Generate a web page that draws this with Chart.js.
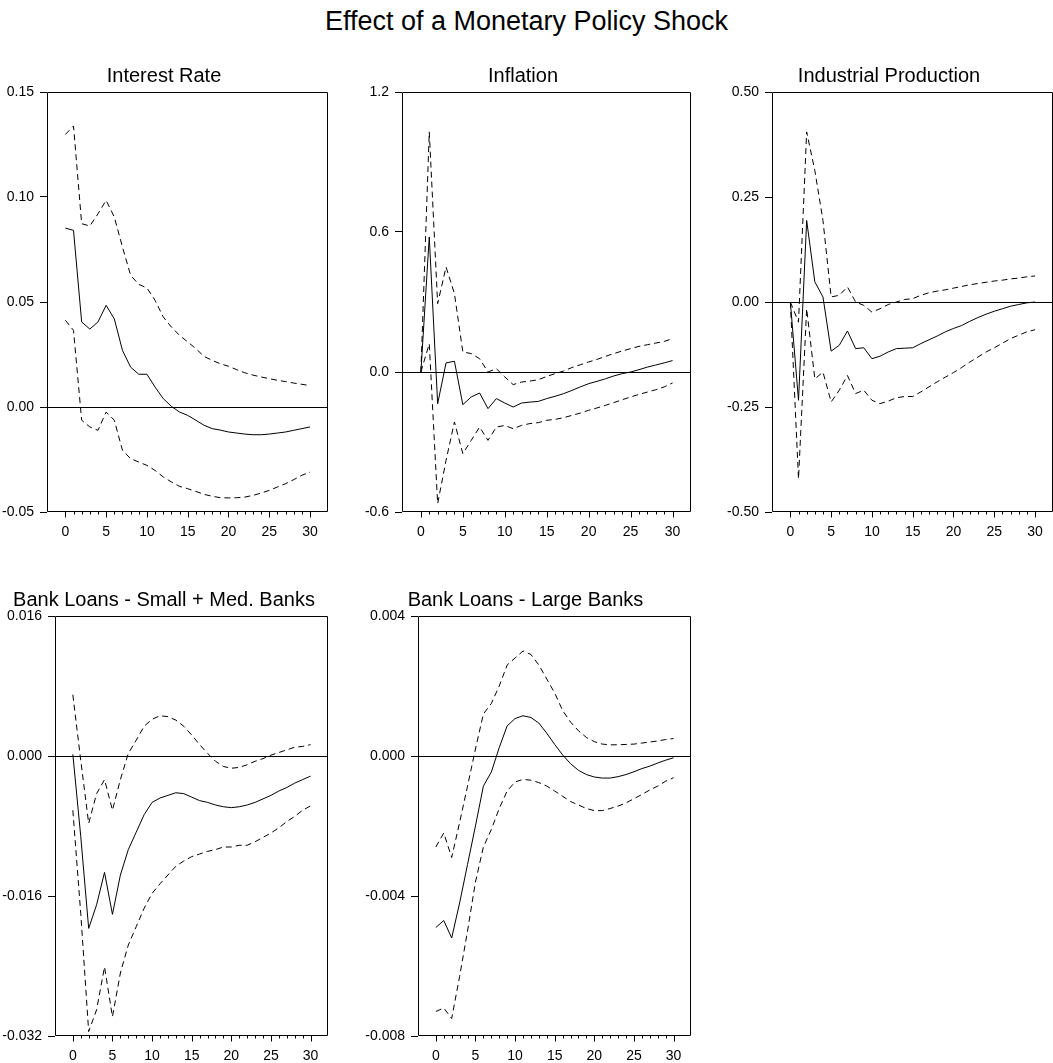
<!DOCTYPE html>
<html>
<head>
<meta charset="utf-8">
<script src="https://cdn.jsdelivr.net/npm/chart.js@4.4.1/dist/chart.umd.min.js"></script>
<style>
  body { margin: 0; width: 1053px; height: 1063px; overflow: hidden; background: #fff; position: relative; font-family: "Liberation Sans", Arial, sans-serif; }
  h1 { position: absolute; left: 0; top: 8px; width: 1053px; margin: 0; text-align: center; font-weight: normal; font-size: 27px; line-height: 27px; color: #000; }
  canvas { position: absolute; }
</style>
</head>
<body>
<h1>Effect of a Monetary Policy Shock</h1>
<canvas id="rate"></canvas>
<canvas id="inflation"></canvas>
<canvas id="production"></canvas>
<canvas id="loansSmall"></canvas>
<canvas id="loansLarge"></canvas>
<script>
// horizon (months after the shock)
const steps = [0, 1, 2, 3, 4, 5, 6, 7, 8, 9, 10, 11, 12, 13, 14, 15, 16, 17, 18, 19, 20, 21, 22, 23, 24, 25, 26, 27, 28, 29, 30];
const xTicks = [0, 5, 10, 15, 20, 25, 30];

// Interest Rate
const rateIrf = [0.0852, 0.0841, 0.0405, 0.0371, 0.0405, 0.0484, 0.042, 0.027, 0.019, 0.0156, 0.0156, 0.0095, 0.004, 0.0003, -0.0024, -0.004, -0.0063, -0.0087, -0.0103, -0.011, -0.0119, -0.0124, -0.0129, -0.0132, -0.0132, -0.0129, -0.0124, -0.0119, -0.0111, -0.0103, -0.0095];
const rateUpper = [0.1298, 0.1338, 0.0873, 0.0862, 0.092, 0.0984, 0.0905, 0.0762, 0.0627, 0.0584, 0.0567, 0.0508, 0.0429, 0.0381, 0.0341, 0.031, 0.0278, 0.0241, 0.0222, 0.0206, 0.0194, 0.0178, 0.0163, 0.0152, 0.0143, 0.0135, 0.0127, 0.0121, 0.0114, 0.0108, 0.0102];
const rateLower = [0.0413, 0.0365, -0.0063, -0.0095, -0.0111, -0.0024, -0.0063, -0.0206, -0.0246, -0.0262, -0.0278, -0.0302, -0.0333, -0.0357, -0.0378, -0.0389, -0.0402, -0.0416, -0.0425, -0.0432, -0.0433, -0.0432, -0.0429, -0.0421, -0.041, -0.0397, -0.0381, -0.0365, -0.0346, -0.0325, -0.031];
const rateTicks = [-0.05, 0, 0.05, 0.1, 0.15];
const rateTickLabels = ['-0.05', '0.00', '0.05', '0.10', '0.15'];

// Inflation
const inflIrf = [0, 0.579, -0.136, 0.039, 0.046, -0.14, -0.107, -0.09, -0.157, -0.114, -0.133, -0.15, -0.133, -0.129, -0.126, -0.114, -0.104, -0.093, -0.079, -0.064, -0.05, -0.04, -0.029, -0.017, -0.007, 0, 0.01, 0.021, 0.03, 0.039, 0.049];
const inflUpper = [0, 1.029, 0.293, 0.45, 0.336, 0.086, 0.079, 0.057, 0, 0.014, -0.021, -0.054, -0.043, -0.039, -0.033, -0.019, -0.007, 0.004, 0.019, 0.031, 0.043, 0.054, 0.067, 0.079, 0.09, 0.1, 0.11, 0.117, 0.124, 0.131, 0.143];
const inflLower = [0, 0.121, -0.564, -0.379, -0.214, -0.35, -0.293, -0.236, -0.293, -0.236, -0.229, -0.243, -0.229, -0.221, -0.217, -0.207, -0.203, -0.196, -0.186, -0.176, -0.164, -0.154, -0.143, -0.131, -0.119, -0.107, -0.096, -0.086, -0.076, -0.064, -0.047];
const inflTicks = [-0.6, 0, 0.6, 1.2];
const inflTickLabels = ['-0.6', '0.0', '0.6', '1.2'];

// Industrial Production
const prodIrf = [0, -0.234, 0.194, 0.048, 0.012, -0.117, -0.103, -0.069, -0.111, -0.109, -0.135, -0.129, -0.119, -0.111, -0.11, -0.109, -0.099, -0.09, -0.081, -0.071, -0.063, -0.056, -0.046, -0.037, -0.029, -0.022, -0.016, -0.01, -0.006, -0.002, 0];
const prodUpper = [0, -0.048, 0.405, 0.313, 0.194, 0.012, 0.016, 0.036, 0, -0.008, -0.024, -0.016, -0.006, 0, 0.006, 0.008, 0.016, 0.022, 0.026, 0.029, 0.033, 0.037, 0.041, 0.044, 0.047, 0.05, 0.052, 0.055, 0.057, 0.06, 0.062];
const prodLower = [0, -0.421, -0.016, -0.183, -0.167, -0.238, -0.21, -0.175, -0.218, -0.21, -0.234, -0.242, -0.236, -0.228, -0.225, -0.225, -0.214, -0.202, -0.19, -0.179, -0.168, -0.156, -0.143, -0.131, -0.119, -0.109, -0.098, -0.087, -0.079, -0.071, -0.066];
const prodTicks = [-0.5, -0.25, 0, 0.25, 0.5];
const prodTickLabels = ['-0.50', '-0.25', '0.00', '0.25', '0.50'];

// Bank Loans - Small + Med. Banks
const smallIrf = [0.0002, -0.0092, -0.0197, -0.017, -0.0133, -0.0181, -0.0136, -0.0107, -0.0087, -0.0067, -0.0053, -0.0048, -0.0045, -0.0042, -0.0043, -0.0047, -0.0051, -0.0053, -0.0056, -0.0058, -0.0059, -0.0058, -0.0056, -0.0053, -0.0049, -0.0045, -0.004, -0.0036, -0.0031, -0.0027, -0.0023];
const smallUpper = [0.007, -0.0005, -0.0077, -0.0043, -0.0027, -0.0062, -0.0027, 0.0003, 0.0018, 0.0034, 0.0042, 0.0046, 0.0045, 0.0041, 0.0034, 0.0024, 0.0013, 0.0003, -0.0006, -0.0012, -0.0014, -0.0013, -0.001, -0.0006, -0.0003, 0.0001, 0.0004, 0.0007, 0.001, 0.0011, 0.0013];
const smallLower = [-0.0062, -0.018, -0.0315, -0.029, -0.0241, -0.0298, -0.0248, -0.0216, -0.0195, -0.0174, -0.0157, -0.0146, -0.0136, -0.0126, -0.012, -0.0115, -0.0112, -0.0109, -0.0107, -0.0104, -0.0104, -0.0102, -0.0102, -0.0098, -0.0093, -0.0088, -0.0082, -0.0075, -0.0069, -0.0062, -0.0057];
const smallTicks = [-0.032, -0.016, 0, 0.016];
const smallTickLabels = ['-0.032', '-0.016', '0.000', '0.016'];

// Bank Loans - Large Banks
const largeIrf = [-0.0049, -0.0047, -0.0052, -0.0042, -0.0031, -0.002, -0.00086, -0.00046, 0.00024, 0.00086, 0.00107, 0.00115, 0.0011, 0.00094, 0.00065, 0.00033, 0.00003, -0.00022, -0.00041, -0.00053, -0.0006, -0.00063, -0.00063, -0.00059, -0.00053, -0.00045, -0.00036, -0.00029, -0.0002, -0.00012, -0.00005];
const largeUpper = [-0.0026, -0.0022, -0.0029, -0.0019, -0.00086, 0.0002, 0.0012, 0.0015, 0.002, 0.0026, 0.0028, 0.003, 0.0029, 0.0026, 0.0022, 0.0018, 0.0013, 0.00097, 0.00072, 0.00053, 0.00041, 0.00034, 0.00032, 0.00032, 0.00033, 0.00034, 0.00037, 0.0004, 0.00043, 0.00047, 0.0005];
const largeLower = [-0.0073, -0.0072, -0.0075, -0.0063, -0.005, -0.0036, -0.0026, -0.0021, -0.0015, -0.001, -0.00074, -0.00067, -0.00069, -0.00076, -0.00086, -0.001, -0.00115, -0.0013, -0.0014, -0.0015, -0.00156, -0.00156, -0.0015, -0.00143, -0.00134, -0.00122, -0.0011, -0.00097, -0.00086, -0.00072, -0.00062];
const largeTicks = [-0.008, -0.004, 0, 0.004];
const largeTickLabels = ['-0.008', '-0.004', '0.000', '0.004'];

Chart.defaults.font.family = '"Liberation Sans", Arial, sans-serif';
Chart.defaults.font.size = 14;
Chart.defaults.color = '#000';

// box around the plot area plus the small ticks on the horizon axis
const framePlugin = {
  id: 'frame',
  afterDraw(chart) {
    const { ctx, chartArea: area } = chart;
    const xScale = chart.scales.x;
    const left = Math.round(area.left) + 0.5;
    const right = Math.round(area.right) - 0.5;
    const top = Math.round(area.top) + 0.5;
    const bottom = Math.round(area.bottom) - 0.5;
    ctx.save();
    ctx.strokeStyle = '#000';
    ctx.lineWidth = 1;
    ctx.beginPath();
    ctx.rect(left, top, right - left, bottom - top);
    steps.forEach((s) => {
      const px = Math.round(xScale.getPixelForValue(s)) + 0.5;
      ctx.moveTo(px, bottom);
      ctx.lineTo(px, bottom + (s % 5 === 0 ? 6 : 3));
    });
    ctx.stroke();
    ctx.restore();
  },
};

const toPoints = (values) => steps.map((s, i) => ({ x: s, y: values[i] }));

const createIrfChart = (panel) => {
  const canvas = document.getElementById(panel.id);
  canvas.width = panel.width;
  canvas.height = panel.height;
  canvas.style.left = panel.left + 'px';
  canvas.style.top = panel.top + 'px';
  canvas.style.width = panel.width + 'px';
  canvas.style.height = panel.height + 'px';

  const line = (values, dashed) => ({
    data: toPoints(values),
    borderColor: '#000',
    borderWidth: 1,
    borderDash: dashed ? [6, 4] : [],
    pointRadius: 0,
    tension: 0,
    fill: false,
  });

  return new Chart(canvas.getContext('2d'), {
    type: 'line',
    data: {
      datasets: [line(panel.upper, true), line(panel.lower, true), line(panel.irf, false)],
    },
    options: {
      responsive: false,
      animation: false,
      events: [],
      layout: { padding: { left: 0, right: panel.padRight, top: 0, bottom: 0 } },
      plugins: {
        legend: { display: false },
        tooltip: { enabled: false },
        title: {
          display: true,
          text: panel.title,
          color: '#000',
          font: { size: 20, weight: 'normal', lineHeight: 1.1 },
          padding: { top: 5, bottom: 5 },
        },
      },
      scales: {
        x: {
          type: 'linear',
          min: -2.25,
          max: 32.2,
          afterBuildTicks: (scale) => { scale.ticks = xTicks.map((v) => ({ value: v })); },
          afterFit: (scale) => { scale.height = 27; },
          border: { display: false },
          grid: { display: true, drawOnChartArea: false, drawTicks: false },
          ticks: { autoSkip: false, maxRotation: 0, padding: 12, callback: (v) => String(v) },
        },
        y: {
          min: panel.yTicks[0],
          max: panel.yTicks[panel.yTicks.length - 1],
          afterBuildTicks: (scale) => { scale.ticks = panel.yTicks.map((v) => ({ value: v })); },
          afterFit: (scale) => { scale.width = panel.yWidth; },
          border: { display: false },
          grid: {
            color: (c) => (c.tick && c.tick.value === 0 ? '#000' : 'rgba(0,0,0,0)'),
            tickColor: '#000',
            tickLength: 7,
            lineWidth: 1,
          },
          ticks: { padding: 6, callback: (v, i) => panel.yTickLabels[i] },
        },
      },
    },
    plugins: [framePlugin],
  });
};

const panels = [
  { id: 'rate', title: 'Interest Rate', irf: rateIrf, upper: rateUpper, lower: rateLower, yTicks: rateTicks, yTickLabels: rateTickLabels, left: 0, top: 60, width: 330, height: 479, yWidth: 47, padRight: 2 },
  { id: 'inflation', title: 'Inflation', irf: inflIrf, upper: inflUpper, lower: inflLower, yTicks: inflTicks, yTickLabels: inflTickLabels, left: 355, top: 60, width: 344, height: 479, yWidth: 47, padRight: 8 },
  { id: 'production', title: 'Industrial Production', irf: prodIrf, upper: prodUpper, lower: prodLower, yTicks: prodTicks, yTickLabels: prodTickLabels, left: 725, top: 60, width: 330, height: 479, yWidth: 47, padRight: 2 },
  { id: 'loansSmall', title: 'Bank Loans - Small + Med. Banks', irf: smallIrf, upper: smallUpper, lower: smallLower, yTicks: smallTicks, yTickLabels: smallTickLabels, left: 0, top: 584, width: 332, height: 479, yWidth: 55, padRight: 4 },
  { id: 'loansLarge', title: 'Bank Loans - Large Banks', irf: largeIrf, upper: largeUpper, lower: largeLower, yTicks: largeTicks, yTickLabels: largeTickLabels, left: 360, top: 584, width: 336, height: 479, yWidth: 58, padRight: 5 },
];

panels.forEach(createIrfChart);
</script>
</body>
</html>
